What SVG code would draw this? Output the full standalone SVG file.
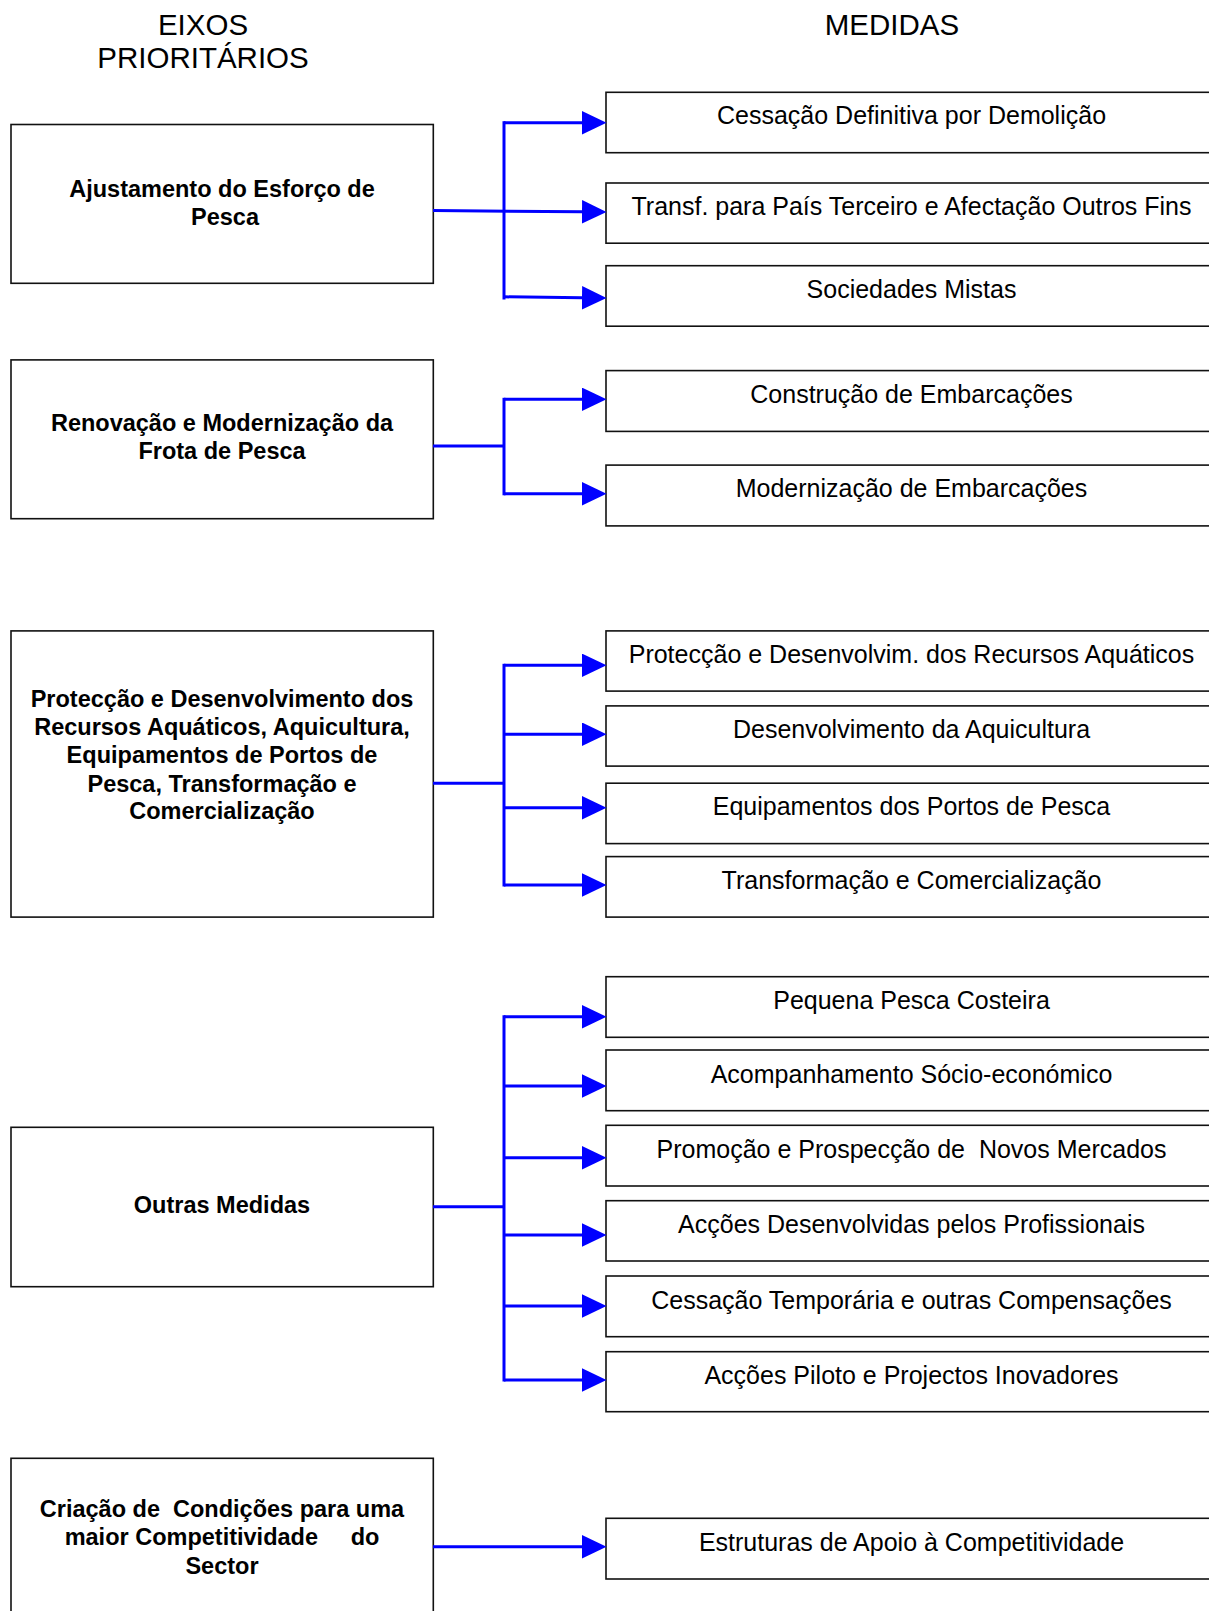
<svg xmlns="http://www.w3.org/2000/svg" width="1209" height="1611" viewBox="0 0 1209 1611">
<style>
.bg{fill:#fff}
.box{fill:#fff;stroke:#111;stroke-width:1.6}
.t{font-family:"Liberation Sans",Arial,sans-serif;font-size:25px;fill:#000;text-anchor:middle}
.b{font-family:"Liberation Sans",Arial,sans-serif;font-size:23.5px;font-weight:bold;fill:#000;text-anchor:middle}
.h{font-family:"Liberation Sans",Arial,sans-serif;font-size:29.5px;fill:#000;text-anchor:middle}
.c{fill:none;stroke:#0000ff;stroke-width:3}
.pre{white-space:pre}
</style>
<defs>
<marker id="ah" markerUnits="userSpaceOnUse" markerWidth="25" markerHeight="24" refX="0" refY="11.7" orient="auto" viewBox="0 0 25 24">
<path d="M0,0 L24.5,11.7 L0,23.4 z" fill="#0000ff"/>
</marker>
</defs>
<rect class="bg" x="0" y="0" width="1209" height="1611"/>
<g id="titles">
<text class="h" x="203" y="35">EIXOS</text>
<text class="h" x="203" y="68">PRIORITÁRIOS</text>
<text class="h" x="892" y="35">MEDIDAS</text>
</g>
<g id="eixo1"><rect class="box" x="11" y="124.5" width="422.3" height="158.8"/>
<text class="b" x="222" y="196.5">Ajustamento do Esforço de</text><text class="b" x="225" y="224.8">Pesca</text></g>
<g id="eixo2"><rect class="box" x="11" y="359.9" width="422.3" height="158.8"/>
<text class="b" x="222" y="430.7">Renovação e Modernização da</text><text class="b" x="222" y="458.8">Frota de Pesca</text></g>
<g id="eixo3"><rect class="box" x="11" y="630.9" width="422.3" height="286.2"/>
<text class="b" x="222" y="706.6">Protecção e Desenvolvimento dos</text>
<text class="b" x="222" y="734.9">Recursos Aquáticos, Aquicultura,</text>
<text class="b" x="222" y="763.2">Equipamentos de Portos de</text>
<text class="b" x="222" y="791.5">Pesca, Transformação e</text>
<text class="b" x="222" y="819.4">Comercialização</text></g>
<g id="eixo4"><rect class="box" x="11" y="1127.3" width="422.3" height="159.4"/>
<text class="b" x="222" y="1212.7">Outras Medidas</text></g>
<g id="eixo5"><rect class="box" x="11" y="1458.3" width="422.3" height="170"/>
<text class="b pre" xml:space="preserve" x="222" y="1516.7">Criação de  Condições para uma</text>
<text class="b pre" xml:space="preserve" x="222" y="1545.3">maior Competitividade     do</text>
<text class="b" x="222" y="1573.6">Sector</text></g>
<g id="m1"><rect class="box" x="606" y="92.3" width="614" height="60.4"/><text class="t" x="911.5" y="124.2">Cessação Definitiva por Demolição</text></g>
<g id="m2"><rect class="box" x="606" y="183" width="614" height="60.2"/><text class="t" x="911.5" y="215">Transf. para País Terceiro e Afectação Outros Fins</text></g>
<g id="m3"><rect class="box" x="606" y="265.7" width="614" height="60.5"/><text class="t" x="911.5" y="297.8">Sociedades Mistas</text></g>
<g id="m4"><rect class="box" x="606" y="370.6" width="614" height="60.8"/><text class="t" x="911.5" y="403">Construção de Embarcações</text></g>
<g id="m5"><rect class="box" x="606" y="465.1" width="614" height="60.8"/><text class="t" x="911.5" y="497.4">Modernização de Embarcações</text></g>
<g id="m6"><rect class="box" x="606" y="630.9" width="614" height="60.2"/><text class="t" x="911.5" y="663">Protecção e Desenvolvim. dos Recursos Aquáticos</text></g>
<g id="m7"><rect class="box" x="606" y="705.9" width="614" height="60.2"/><text class="t" x="911.5" y="738">Desenvolvimento da Aquicultura</text></g>
<g id="m8"><rect class="box" x="606" y="783.2" width="614" height="60.4"/><text class="t" x="911.5" y="815.3">Equipamentos dos Portos de Pesca</text></g>
<g id="m9"><rect class="box" x="606" y="856.6" width="614" height="60.5"/><text class="t" x="911.5" y="888.7">Transformação e Comercialização</text></g>
<g id="m10"><rect class="box" x="606" y="976.7" width="614" height="60.6"/><text class="t" x="911.5" y="1009.3">Pequena Pesca Costeira</text></g>
<g id="m11"><rect class="box" x="606" y="1050" width="614" height="60.7"/><text class="t" x="911.5" y="1083">Acompanhamento Sócio-económico</text></g>
<g id="m12"><rect class="box" x="606" y="1125.3" width="614" height="60.7"/><text class="t pre" xml:space="preserve" x="911.5" y="1158">Promoção e Prospecção de  Novos Mercados</text></g>
<g id="m13"><rect class="box" x="606" y="1200.7" width="614" height="60.3"/><text class="t" x="911.5" y="1233.2">Acções Desenvolvidas pelos Profissionais</text></g>
<g id="m14"><rect class="box" x="606" y="1276" width="614" height="60.7"/><text class="t" x="911.5" y="1308.5">Cessação Temporária e outras Compensações</text></g>
<g id="m15"><rect class="box" x="606" y="1351.7" width="614" height="60"/><text class="t" x="911.5" y="1384">Acções Piloto e Projectos Inovadores</text></g>
<g id="m16"><rect class="box" x="606" y="1518.3" width="614" height="60.7"/><text class="t" x="911.5" y="1551">Estruturas de Apoio à Competitividade</text></g>
<g id="connectors">
<path class="c" d="M433,210.5 L582,211.8" marker-end="url(#ah)"/>
<path class="c" d="M504,121.2 V299.5"/>
<path class="c" d="M504,122.7 H582" marker-end="url(#ah)"/>
<path class="c" d="M504,296.8 L582,297.8" marker-end="url(#ah)"/>
<path class="c" d="M433,446 H504"/>
<path class="c" d="M504,397.8 V495.3"/>
<path class="c" d="M504,399.3 H582" marker-end="url(#ah)"/>
<path class="c" d="M504,493.8 H582" marker-end="url(#ah)"/>
<path class="c" d="M433,783.2 H504"/>
<path class="c" d="M504,663.8 V886.5"/>
<path class="c" d="M504,665.3 H582" marker-end="url(#ah)"/>
<path class="c" d="M504,734.2 H582" marker-end="url(#ah)"/>
<path class="c" d="M504,807.7 H582" marker-end="url(#ah)"/>
<path class="c" d="M504,885 H582" marker-end="url(#ah)"/>
<path class="c" d="M433,1206.7 H504"/>
<path class="c" d="M504,1015.2 V1381.5"/>
<path class="c" d="M504,1016.7 H582" marker-end="url(#ah)"/>
<path class="c" d="M504,1086 H582" marker-end="url(#ah)"/>
<path class="c" d="M504,1157.7 H582" marker-end="url(#ah)"/>
<path class="c" d="M504,1235 H582" marker-end="url(#ah)"/>
<path class="c" d="M504,1306 H582" marker-end="url(#ah)"/>
<path class="c" d="M504,1380 H582" marker-end="url(#ah)"/>
<path class="c" d="M433,1546.7 H582" marker-end="url(#ah)"/>
</g>
</svg>
